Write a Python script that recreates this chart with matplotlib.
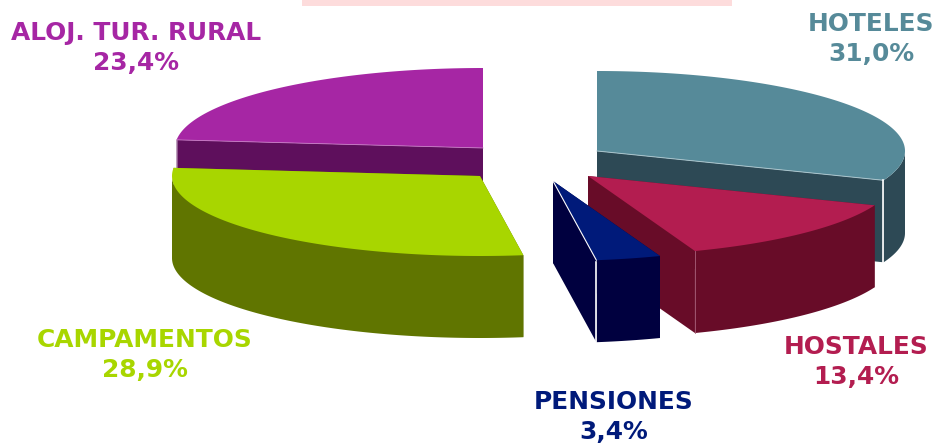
import numpy as np
import matplotlib
matplotlib.use("Agg")
import matplotlib.pyplot as plt
from matplotlib.patches import Polygon, Rectangle

# Data
categories = ["HOTELES", "HOSTALES", "PENSIONES", "CAMPAMENTOS", "ALOJ. TUR. RURAL"]
values = [31.0, 13.4, 3.4, 28.9, 23.4]
value_labels = ["31,0%", "13,4%", "3,4%", "28,9%", "23,4%"]

# Styles
top_colors = ["#568A99", "#B31D50", "#001A7A", "#A8D600", "#A626A4"]
side_colors = ["#2D4955", "#680C28", "#00003F", "#607500", "#5E0F5C"]
apexes = [(597, 151), (588, 176), (553, 181), (480, 176), (483, 148)]
label_pos = [(871, 39), (856, 362), (614, 417), (145, 355), (136, 48)]
RX, RY, DEPTH = 308, 80, 82
draw_order = [4, 3, 0, 1, 2]

fig = plt.figure(figsize=(9.34, 4.44), dpi=100)
ax = fig.add_axes([0, 0, 1, 1])
ax.set_xlim(0, 934)
ax.set_ylim(444, 0)
ax.axis("off")

ax.add_patch(Rectangle((302, 0), 430, 6, fc="#FDDCDC", ec="none", zorder=1))

shares = np.array(values) / sum(values) * 360
ends = np.cumsum(shares)
starts = ends - shares


def pt(apex, deg):
    t = np.radians(deg)
    return apex[0] + RX * np.sin(t), apex[1] - RY * np.cos(t)


z = 2
for i in draw_order:
    ap = apexes[i]
    th = np.linspace(starts[i], ends[i], 160)
    xs, ys = pt(ap, th)
    poly_top = np.column_stack([np.r_[ap[0], xs], np.r_[ap[1], ys]])
    # Flat cut faces
    for p in (poly_top[[0, 1]], poly_top[[0, -1]]):
        q = np.vstack([p, p[::-1] + [0, DEPTH]])
        ax.add_patch(Polygon(q, fc=side_colors[i], ec="none", zorder=z))
    # Outer rim: only the part that faces the viewer
    lo, hi = max(starts[i], 90), min(ends[i], 270)
    if hi > lo:
        rx, ry = pt(ap, np.linspace(lo, hi, 160))
        rim = np.column_stack([rx, ry])
        q = np.vstack([rim, rim[::-1] + [0, DEPTH]])
        ax.add_patch(Polygon(q, fc=side_colors[i], ec="none", zorder=z))
    # Top face
    ax.add_patch(Polygon(poly_top, fc=top_colors[i], ec="none", zorder=z + 0.5))
    z += 1

# Seams at the slice edges
x0, y0 = pt(apexes[0], ends[0])
ax.plot([x0 - 1, x0 - 1], [y0, y0 + DEPTH + 2], color="white", lw=1.2, zorder=20)
ax.plot([apexes[0][0], x0], [apexes[0][1], y0], color="#A9C4CC", lw=0.7, zorder=5.5)
x1, y1 = pt(apexes[2], ends[2])
ax.plot([x1, x1], [y1 + 2, y1 + DEPTH], color="white", lw=1.2, zorder=20)
ax.plot([apexes[2][0], x1], [apexes[2][1], y1], color="white", lw=0.8, zorder=20)
x2, y2 = pt(apexes[1], ends[1])
ax.plot([x2, x2], [y2, y2 + DEPTH], color="#A8607A", lw=0.6, zorder=10)
x3, y3 = pt(apexes[4], starts[4])
ax.plot([x3, x3], [y3, y3 + 28], color="#9C6A9A", lw=0.6, zorder=2.8)
ax.plot([x3, apexes[4][0]], [y3, apexes[4][1]], color="#C77BC5", lw=0.6, zorder=2.8)

for name, val, c, (x, y) in zip(categories, value_labels, top_colors, label_pos):
    ax.text(x, y, f"{name}\n{val}", color=c, ha="center", va="center",
            fontsize=17.9, fontweight="bold", family="DejaVu Sans", linespacing=1.35, zorder=30)

fig.savefig("out.png", dpi=100)
